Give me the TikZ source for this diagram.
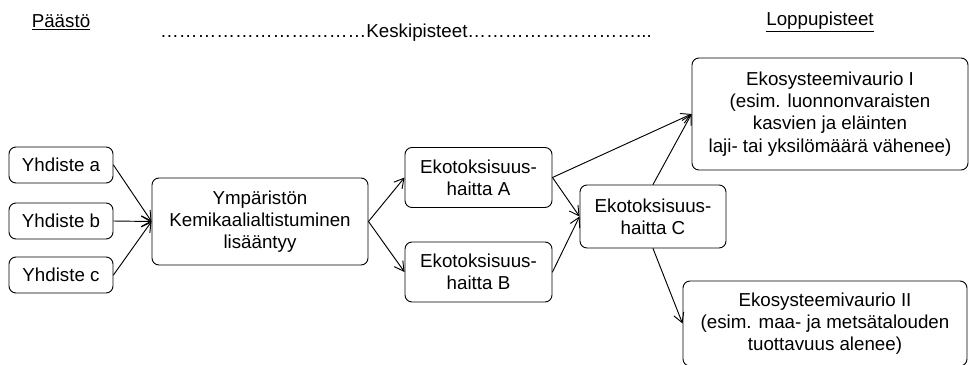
\documentclass[tikz,border=0pt]{standalone}
\usepackage{fontspec}
\setmainfont{Liberation Sans}
\usetikzlibrary{arrows.meta,positioning}
\tikzset{
  box/.style={draw,rounded corners=6pt,align=center,inner sep=2pt,line width=0.8pt,
    font=\fontsize{16}{19}\selectfont},
  smallbox/.style={box,minimum width=3.12cm,minimum height=1.08cm},
  ekobox/.style={box,minimum width=4.41cm,minimum height=1.8cm},
  header/.style={font=\fontsize{16}{19}\selectfont,inner sep=0pt},
  flow/.style={line width=0.8pt,-{Straight Barb[length=8pt,width=9pt,line width=0.8pt]}},
  every picture/.style={line cap=round,line join=round}
}
\newcommand\ellrow[1]{\foreach\k in {1,...,#1}{…}}

\begin{document}
\begin{tikzpicture}[x=0.03cm,y=-0.03cm]
  \useasboundingbox (0,0) rectangle (969,365);
  % otsikot
  \node[header] (paasto) at (61,22) {\underline{Päästö}};
  \node[header,anchor=west] (keski) at (160,33)
    {\ellrow{11}Keskipisteet\ellrow{9}...};
  \node[header] (loppu) at (820,22) {\underline{Loppupisteet}};
  % laatikot
  \node[smallbox] (ya) at (61,165) {Yhdiste a};
  \node[smallbox] (yb) at (61,221) {Yhdiste b};
  \node[smallbox] (yc) at (61,275) {Yhdiste c};
  \node[box,minimum width=6.48cm,minimum height=2.61cm] (ymp) at (260,221.5)
    {Ympäristön\\Kemikaalialtistuminen\\lisääntyy};
  \node[ekobox] (eka) at (478.5,177.5) {Ekotoksisuus-\\haitta A};
  \node[ekobox] (ekb) at (478.5,272) {Ekotoksisuus-\\haitta B};
  \node[box,minimum width=4.38cm,minimum height=1.89cm] (ekc) at (653,216.5)
    {Ekotoksisuus-\\haitta C};
  \node[box,minimum width=8.28cm,minimum height=3.36cm] (evi) at (830,114)
    {Ekosysteemivaurio I\\(esim. luonnonvaraisten\\kasvien ja eläinten\\laji- tai yksilömäärä vähenee)};
  \node[box,minimum width=8.52cm,minimum height=2.55cm] (evii) at (825,323.5)
    {Ekosysteemivaurio II\\(esim. maa- ja metsätalouden\\tuottavuus alenee)};
  % nuolet
  \draw[flow] (ya.east) -- (ymp.west);
  \draw[flow] (yb.east) -- (ymp.west);
  \draw[flow] (yc.east) -- (ymp.west);
  \draw[flow] (ymp.east) -- (eka.west);
  \draw[flow] (ymp.east) -- (ekb.west);
  \draw[flow] (eka.east) -- (ekc.west);
  \draw[flow] (ekb.east) -- (ekc.west);
  \draw[flow] (eka.east) -- (evi.west);
  \draw[flow] (ekc.north) -- (evi.west);
  \draw[flow] (ekc.south) -- (evii.west);
\end{tikzpicture}
\end{document}
